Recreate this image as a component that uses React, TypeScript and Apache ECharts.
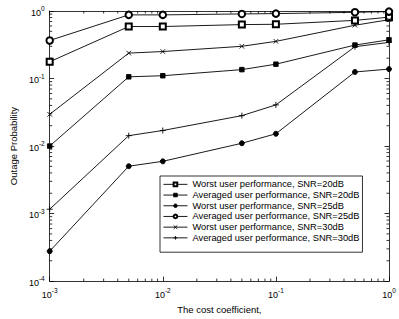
import React, { useEffect, useRef } from "react";
import * as echarts from "echarts";

const xValues = [0.001, 0.005, 0.01, 0.05, 0.1, 0.5, 1];
const worst20 = [0.177, 0.589, 0.589, 0.629, 0.636, 0.726, 0.81];
const avg20 = [0.01, 0.106, 0.11, 0.1355, 0.163, 0.313, 0.374];
const worst25 = [0.000277, 0.00503, 0.00594, 0.011, 0.0152, 0.125, 0.138];
const avg25 = [0.366, 0.876, 0.876, 0.905, 0.915, 0.957, 0.98];
const worst30 = [0.0295, 0.238, 0.251, 0.3, 0.355, 0.615, 0.743];
const avg30 = [0.00116, 0.01425, 0.017, 0.0282, 0.0407, 0.296, 0.343];

const seriesNames = [
  "Worst user performance, SNR=20dB",
  "Averaged user performance, SNR=20dB",
  "Worst user performance, SNR=25dB",
  "Averaged user performance, SNR=25dB",
  "Worst user performance, SNR=30dB",
  "Averaged user performance, SNR=30dB",
];

const X_MIN = 0.001;
const X_MAX = 1;
const Y_MIN = 0.0001;
const Y_MAX = 1;

const xMinorTicks: number[] = [];
for (let k = -3; k < 0; k++) for (let m = 2; m <= 9; m++) xMinorTicks.push(m * Math.pow(10, k));
const yMinorTicks: number[] = [];
for (let k = -4; k < 0; k++) for (let m = 2; m <= 9; m++) yMinorTicks.push(m * Math.pow(10, k));

const FONT = "'Liberation Sans', Arial, Helvetica, sans-serif";

const powLabel = (v: number) => {
  const e = Math.round(Math.log10(v));
  return `{b|10}{s|${e}}`;
};

const richLabel = {
  b: { fontSize: 9, fontFamily: FONT, color: "#000", lineHeight: 12, verticalAlign: "bottom" },
  s: { fontSize: 6.5, fontFamily: FONT, color: "#000", lineHeight: 12, verticalAlign: "top" },
};

export default function App() {
  const ref = useRef<HTMLDivElement>(null);
  useEffect(() => {
    document.body.style.margin = "0";
    if (!ref.current) return;
    const chart = echarts.init(ref.current, undefined, { renderer: "svg" });
    const mk = (ys: number[]) => xValues.map((x, i) => [x, ys[i]]);
    const lineBase = {
      type: "line",
      xAxisIndex: 0,
      yAxisIndex: 0,
      lineStyle: { color: "#000", width: 0.9 },
      itemStyle: { color: "#000", borderColor: "#000", borderWidth: 0.9 },
      emphasis: { disabled: true },
    };
    const tickLine = (x1: number, y1: number, x2: number, y2: number) => ({
      type: "line",
      shape: { x1, y1, x2, y2 },
      style: { stroke: "#000", lineWidth: 0.8 },
    });
    const option: any = {
      animation: false,
      backgroundColor: "#fff",
      textStyle: { fontFamily: FONT },
      grid: { left: 36, right: 10, top: 11, bottom: 30 },
      legend: {
        data: seriesNames,
        orient: "vertical",
        left: 160,
        top: 176,
        padding: [3, 3, 9, 3],
        itemGap: 0,
        itemWidth: 24,
        itemHeight: 4.5,
        backgroundColor: "#fff",
        borderColor: "#000",
        borderWidth: 0.8,
        borderRadius: 0,
        lineStyle: { width: 0.9, color: "#000" },
        itemStyle: { borderWidth: 0.9 },
        textStyle: { fontSize: 9.3, fontFamily: FONT, color: "#000", lineHeight: 10.7 },
      },
      xAxis: [
        {
          type: "log",
          logBase: 10,
          min: X_MIN,
          max: X_MAX,
          position: "bottom",
          name: "The cost coefficient,",
          nameLocation: "middle",
          nameGap: 19,
          nameTextStyle: { fontSize: 9.5, fontFamily: FONT, color: "#000" },
          axisLine: { show: true, lineStyle: { color: "#000", width: 0.8 } },
          axisTick: { show: true, inside: true, length: 4.5, lineStyle: { color: "#000", width: 0.8 } },
          axisLabel: { formatter: powLabel, rich: richLabel, margin: 6 },
          splitLine: { show: false },
        },
        {
          type: "log",
          logBase: 10,
          min: X_MIN,
          max: X_MAX,
          position: "top",
          axisLine: { show: true, onZero: false, lineStyle: { color: "#000", width: 0.8 } },
          axisTick: { show: true, inside: true, length: 4.5, lineStyle: { color: "#000", width: 0.8 } },
          axisLabel: { show: false },
          splitLine: { show: false },
        },
      ],
      yAxis: [
        {
          type: "log",
          logBase: 10,
          min: Y_MIN,
          max: Y_MAX,
          position: "left",
          name: "Outage Probability",
          nameLocation: "middle",
          nameGap: 31,
          nameTextStyle: { fontSize: 9.5, fontFamily: FONT, color: "#000" },
          axisLine: { show: true, lineStyle: { color: "#000", width: 0.8 } },
          axisTick: { show: true, inside: true, length: 4.5, lineStyle: { color: "#000", width: 0.8 } },
          axisLabel: { formatter: powLabel, rich: richLabel, margin: 5 },
          splitLine: { show: false },
        },
        {
          type: "log",
          logBase: 10,
          min: Y_MIN,
          max: Y_MAX,
          position: "right",
          axisLine: { show: true, onZero: false, lineStyle: { color: "#000", width: 0.8 } },
          axisTick: { show: true, inside: true, length: 4.5, lineStyle: { color: "#000", width: 0.8 } },
          axisLabel: { show: false },
          splitLine: { show: false },
        },
      ],
      series: [
        {
          type: "custom",
          name: "xminor",
          xAxisIndex: 0,
          yAxisIndex: 0,
          silent: true,
          clip: false,
          data: xMinorTicks.map((x) => [x, Y_MIN]),
          renderItem: (_p: any, api: any) => {
            const x = api.value(0);
            const a = api.coord([x, Y_MIN]);
            const b = api.coord([x, Y_MAX]);
            return {
              type: "group",
              children: [tickLine(a[0], a[1], a[0], a[1] - 2.5), tickLine(b[0], b[1], b[0], b[1] + 2.5)],
            };
          },
        },
        {
          type: "custom",
          name: "yminor",
          xAxisIndex: 0,
          yAxisIndex: 0,
          silent: true,
          clip: false,
          data: yMinorTicks.map((y) => [X_MIN, y]),
          renderItem: (_p: any, api: any) => {
            const y = api.value(1);
            const a = api.coord([X_MIN, y]);
            const b = api.coord([X_MAX, y]);
            return {
              type: "group",
              children: [tickLine(a[0], a[1], a[0] + 2.5, a[1]), tickLine(b[0], b[1], b[0] - 2.5, b[1])],
            };
          },
        },
        { ...lineBase, name: seriesNames[0], data: mk(worst20), symbol: "emptyRect", symbolSize: 6 },
        { ...lineBase, name: seriesNames[1], data: mk(avg20), symbol: "rect", symbolSize: 4.5 },
        { ...lineBase, name: seriesNames[2], data: mk(worst25), symbol: "circle", symbolSize: 5 },
        { ...lineBase, name: seriesNames[3], data: mk(avg25), symbol: "emptyCircle", symbolSize: 6.5 },
        {
          ...lineBase,
          name: seriesNames[4],
          data: mk(worst30),
          symbol: "path://M0,0L10,10M10,0L0,10",
          symbolSize: 4.5,
        },
        {
          ...lineBase,
          name: seriesNames[5],
          data: mk(avg30),
          symbol: "path://M5,0L5,10M0,5L10,5",
          symbolSize: 6,
        },
      ],
    };
    chart.setOption(option);
    return () => chart.dispose();
  }, []);
  return (
    <div
      ref={ref}
      style={{ width: 399, height: 319, position: "fixed", left: 0, top: 0, background: "#fff" }}
    />
  );
}
